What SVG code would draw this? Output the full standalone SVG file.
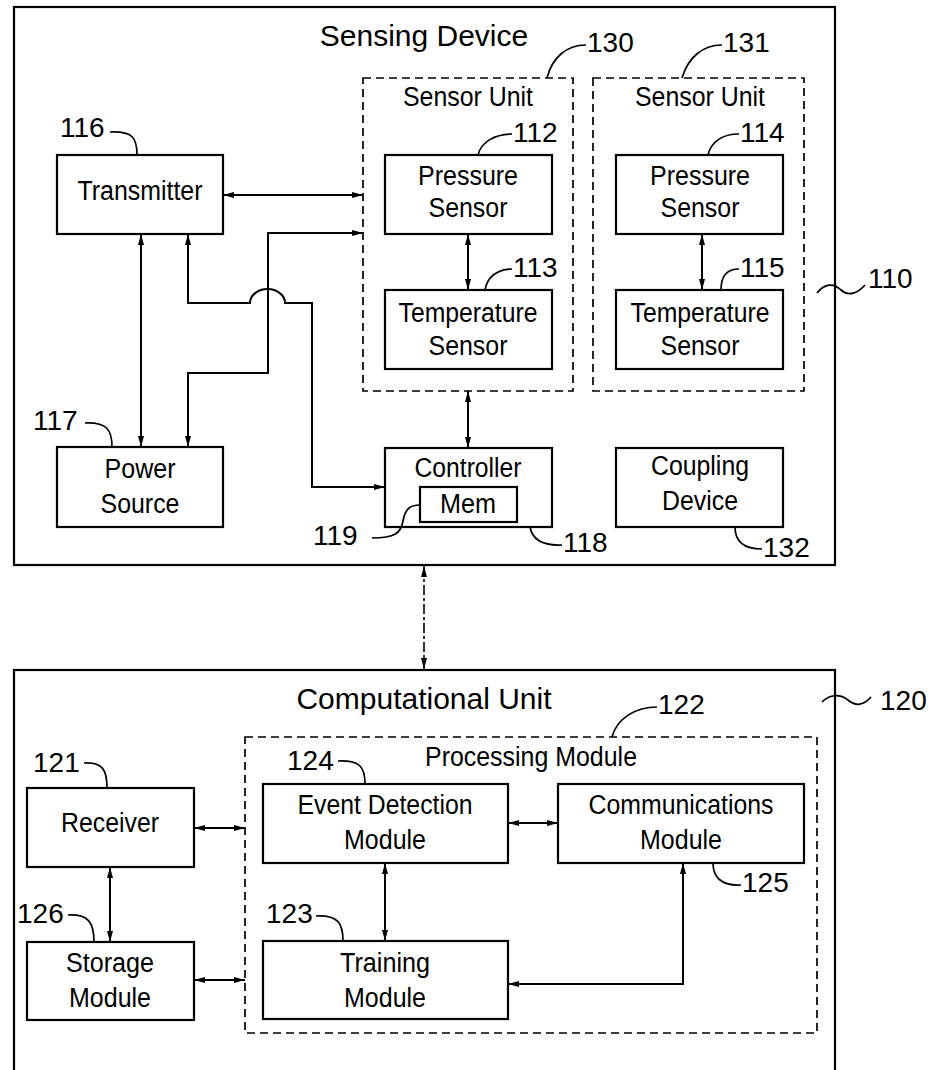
<svg xmlns="http://www.w3.org/2000/svg" width="933" height="1070" viewBox="0 0 933 1070">
<defs>
<marker id="ah" viewBox="0 0 11 6" refX="11" refY="3" markerWidth="11" markerHeight="6" markerUnits="userSpaceOnUse" orient="auto-start-reverse"><path d="M0,0 L11,3 L0,6 z" fill="#000"/></marker>
<style>
.box{fill:#fff;stroke:#000;stroke-width:2.2}
.outer{fill:none;stroke:#000;stroke-width:2.2}
.dash{fill:none;stroke:#000;stroke-width:1.7;stroke-dasharray:8 5}
.conn{fill:none;stroke:#000;stroke-width:2;marker-start:url(#ah);marker-end:url(#ah)}
.lead{fill:none;stroke:#000;stroke-width:1.7}
text{font-family:"Liberation Sans",Arial,sans-serif;fill:#000}
.t{font-size:27px;text-anchor:middle}
.h{font-size:30px;text-anchor:middle}
.n{font-size:28px}
</style>
</defs>

<g id="sensing-device-110">
<rect class="outer" x="14" y="7" width="821" height="558"/>
<text class="h" x="424" y="46">Sensing Device</text>
<path class="lead" d="M817,293 C825,283 834,283 841,290 C849,297 858,293 865,285"/>
<text class="n" x="868" y="288">110</text>
</g>

<g id="sensor-unit-130">
<rect class="dash" x="363" y="78" width="210" height="313"/>
<text class="t" x="468" y="106" textLength="130" lengthAdjust="spacingAndGlyphs">Sensor Unit</text>
<path class="lead" d="M586,45 C566,45 552,58 547,78"/>
<text class="n" x="587" y="52">130</text>
</g>

<g id="sensor-unit-131">
<rect class="dash" x="593" y="78" width="211" height="313"/>
<text class="t" x="700" y="106" textLength="130" lengthAdjust="spacingAndGlyphs">Sensor Unit</text>
<path class="lead" d="M722,45 C702,45 688,58 682,78"/>
<text class="n" x="723" y="52">131</text>
</g>

<g id="transmitter-116">
<rect class="box" x="57" y="155" width="166" height="79"/>
<text class="t" x="140" y="200" textLength="125" lengthAdjust="spacingAndGlyphs">Transmitter</text>
<path class="lead" d="M110,132 C133,131 137,138 137,155"/>
<text class="n" x="60" y="137">116</text>
</g>

<g id="pressure-sensor-112">
<rect class="box" x="385" y="155" width="167" height="79"/>
<text class="t" x="468" y="185" textLength="100" lengthAdjust="spacingAndGlyphs">Pressure</text>
<text class="t" x="468" y="217" textLength="79" lengthAdjust="spacingAndGlyphs">Sensor</text>
<path class="lead" d="M512,134 C495,134 481,142 478,155"/>
<text class="n" x="513" y="142">112</text>
</g>

<g id="temperature-sensor-113">
<rect class="box" x="385" y="290" width="167" height="79"/>
<text class="t" x="468" y="322" textLength="139" lengthAdjust="spacingAndGlyphs">Temperature</text>
<text class="t" x="468" y="355" textLength="79" lengthAdjust="spacingAndGlyphs">Sensor</text>
<path class="lead" d="M512,269 C496,269 487,278 485,290"/>
<text class="n" x="513" y="277">113</text>
</g>

<g id="pressure-sensor-114">
<rect class="box" x="616" y="155" width="167" height="79"/>
<text class="t" x="700" y="185" textLength="100" lengthAdjust="spacingAndGlyphs">Pressure</text>
<text class="t" x="700" y="217" textLength="79" lengthAdjust="spacingAndGlyphs">Sensor</text>
<path class="lead" d="M739,134 C722,134 711,142 708,155"/>
<text class="n" x="740" y="142">114</text>
</g>

<g id="temperature-sensor-115">
<rect class="box" x="616" y="290" width="167" height="79"/>
<text class="t" x="700" y="322" textLength="139" lengthAdjust="spacingAndGlyphs">Temperature</text>
<text class="t" x="700" y="355" textLength="79" lengthAdjust="spacingAndGlyphs">Sensor</text>
<path class="lead" d="M739,269 C725,269 721,278 721,290"/>
<text class="n" x="740" y="277">115</text>
</g>

<g id="power-source-117">
<rect class="box" x="57" y="447" width="166" height="80"/>
<text class="t" x="140" y="478" textLength="71" lengthAdjust="spacingAndGlyphs">Power</text>
<text class="t" x="140" y="513" textLength="79" lengthAdjust="spacingAndGlyphs">Source</text>
<path class="lead" d="M85,423 C107,422 112,430 112,447"/>
<text class="n" x="33" y="430">117</text>
</g>

<g id="controller-118">
<rect class="box" x="385" y="448" width="167" height="79"/>
<text class="t" x="468" y="477" textLength="107" lengthAdjust="spacingAndGlyphs">Controller</text>
<path class="lead" d="M562,545 C540,546 532,538 530,527"/>
<text class="n" x="563" y="552">118</text>
</g>

<g id="mem-119">
<rect class="box" x="420" y="487" width="97" height="35"/>
<text class="t" x="468" y="513" textLength="56" lengthAdjust="spacingAndGlyphs">Mem</text>
<path class="lead" d="M372,538 C395,538 401,533 403,521 C405,509 410,505 420,505"/>
<text class="n" x="313" y="545">119</text>
</g>

<g id="coupling-device-132">
<rect class="box" x="616" y="448" width="167" height="79"/>
<text class="t" x="700" y="475" textLength="98" lengthAdjust="spacingAndGlyphs">Coupling</text>
<text class="t" x="700" y="510" textLength="76" lengthAdjust="spacingAndGlyphs">Device</text>
<path class="lead" d="M762,549 C742,549 735,540 735,527"/>
<text class="n" x="763" y="557">132</text>
</g>

<g id="computational-unit-120">
<rect class="outer" x="14" y="670" width="821" height="420"/>
<text class="h" x="424" y="709">Computational Unit</text>
<path class="lead" d="M822,702 C830,694 840,694 848,700 C856,707 864,705 871,697"/>
<text class="n" x="880" y="710">120</text>
</g>

<g id="processing-module-122">
<rect class="dash" x="245" y="737" width="572" height="296"/>
<text class="t" x="531" y="766" textLength="212" lengthAdjust="spacingAndGlyphs">Processing Module</text>
<path class="lead" d="M657,707 C636,707 617,718 612,737"/>
<text class="n" x="658" y="714">122</text>
</g>

<g id="receiver-121">
<rect class="box" x="27" y="788" width="167" height="79"/>
<text class="t" x="110" y="832" textLength="98" lengthAdjust="spacingAndGlyphs">Receiver</text>
<path class="lead" d="M84,763 C103,762 107,770 107,788"/>
<text class="n" x="33" y="772">121</text>
</g>

<g id="storage-module-126">
<rect class="box" x="27" y="942" width="167" height="78"/>
<text class="t" x="110" y="972" textLength="88" lengthAdjust="spacingAndGlyphs">Storage</text>
<text class="t" x="110" y="1007" textLength="82" lengthAdjust="spacingAndGlyphs">Module</text>
<path class="lead" d="M68,915 C88,914 94,922 94,942"/>
<text class="n" x="17" y="923">126</text>
</g>

<g id="event-detection-module-124">
<rect class="box" x="263" y="784" width="245" height="79"/>
<text class="t" x="385" y="814" textLength="175" lengthAdjust="spacingAndGlyphs">Event Detection</text>
<text class="t" x="385" y="849" textLength="82" lengthAdjust="spacingAndGlyphs">Module</text>
<path class="lead" d="M338,761 C360,760 365,767 365,784"/>
<text class="n" x="287" y="770">124</text>
</g>

<g id="communications-module-125">
<rect class="box" x="558" y="784" width="246" height="79"/>
<text class="t" x="681" y="814" textLength="185" lengthAdjust="spacingAndGlyphs">Communications</text>
<text class="t" x="681" y="849" textLength="82" lengthAdjust="spacingAndGlyphs">Module</text>
<path class="lead" d="M741,885 C720,886 713,876 713,863"/>
<text class="n" x="742" y="892">125</text>
</g>

<g id="training-module-123">
<rect class="box" x="263" y="941" width="245" height="78"/>
<text class="t" x="385" y="972" textLength="90" lengthAdjust="spacingAndGlyphs">Training</text>
<text class="t" x="385" y="1007" textLength="82" lengthAdjust="spacingAndGlyphs">Module</text>
<path class="lead" d="M316,916 C338,915 343,923 343,941"/>
<text class="n" x="266" y="923">123</text>
</g>

<g id="connectors">
<path class="conn" d="M223,195 H363"/>
<path class="conn" d="M141,234 V447"/>
<path class="conn" d="M188,234 V303 H250 A17.5,14 0 0 1 285,303 H312 V487 H385"/>
<path class="conn" d="M363,233 H268 V373 H188 V447"/>
<path class="conn" d="M468,234 V290"/>
<path class="conn" d="M468,391 V448"/>
<path class="conn" d="M702,234 V290"/>
<path class="conn" d="M424,566 V669" style="stroke-width:1.6;stroke-dasharray:10 3 3 3"/>
<path class="conn" d="M194,828 H245"/>
<path class="conn" d="M110,867 V942"/>
<path class="conn" d="M194,980 H245"/>
<path class="conn" d="M508,823 H558"/>
<path class="conn" d="M385,863 V941"/>
<path class="conn" d="M683,863 V984 H508"/>
</g>
</svg>
